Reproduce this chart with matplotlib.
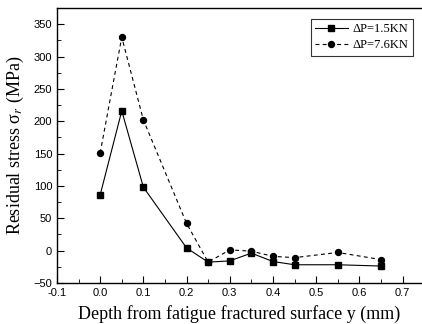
import matplotlib
matplotlib.use("Agg")
import matplotlib.pyplot as plt
from matplotlib.ticker import MultipleLocator

depth = [0.0, 0.05, 0.1, 0.2, 0.25, 0.3, 0.35, 0.4, 0.45, 0.55, 0.65]
stress_15 = [86, 216, 98, 4, -18, -16, -4, -17, -22, -22, -24]
stress_76 = [151, 330, 202, 42, -18, 1, -1, -9, -11, -3, -14]
labels = ["ΔP=1.5KN", "ΔP=7.6KN"]

plt.rcParams['mathtext.fontset'] = 'stix'

fig = plt.figure(figsize=(4.22, 3.24), dpi=100)
ax = fig.add_axes([0.135, 0.127, 0.865, 0.848])

ax.plot(depth, stress_15, '-', color='black', lw=0.8, marker='s', ms=4.3, label=labels[0])
ax.plot(depth, stress_76, '--', color='black', lw=0.8, marker='o', ms=4.3, dashes=(3.5, 3), label=labels[1])

ax.set_xlim(-0.1, 0.745)
ax.set_ylim(-50, 375)
ax.xaxis.set_major_locator(MultipleLocator(0.1))
ax.xaxis.set_minor_locator(MultipleLocator(0.05))
ax.yaxis.set_major_locator(MultipleLocator(50))
ax.yaxis.set_minor_locator(MultipleLocator(25))
ax.tick_params(which='both', direction='in', top=False, right=False, labelsize=8)
ax.tick_params(which='major', length=5)
ax.tick_params(which='minor', length=3)
for lbl in ax.get_xticklabels() + ax.get_yticklabels():
    lbl.set_family('Liberation Sans')
ax.set_xticks([-0.1, 0.0, 0.1, 0.2, 0.3, 0.4, 0.5, 0.6, 0.7])
ax.set_xticklabels(['-0.1', '0.0', '0.1', '0.2', '0.3', '0.4', '0.5', '0.6', '0.7'],
                   family='Liberation Sans', fontsize=8)
ax.spines['right'].set_visible(False)
for s in ['left', 'bottom', 'top']:
    ax.spines[s].set_linewidth(1.0)

ax.set_xlabel("Depth from fatigue fractured surface y (mm)", family='Liberation Serif', fontsize=13, labelpad=5)
ax.set_ylabel(r"Residual stress σ$_r$ (MPa)", family='Liberation Serif', fontsize=13, labelpad=5)

leg = ax.legend(loc='upper right', bbox_to_anchor=(0.985, 0.975), prop={'family': 'Liberation Serif', 'size': 9},
                frameon=True, fancybox=False, edgecolor='black', handlelength=2.6,
                borderpad=0.35, labelspacing=0.35, handletextpad=0.4, borderaxespad=0.3)
leg.get_frame().set_linewidth(0.8)

fig.savefig("out.png", dpi=100)
